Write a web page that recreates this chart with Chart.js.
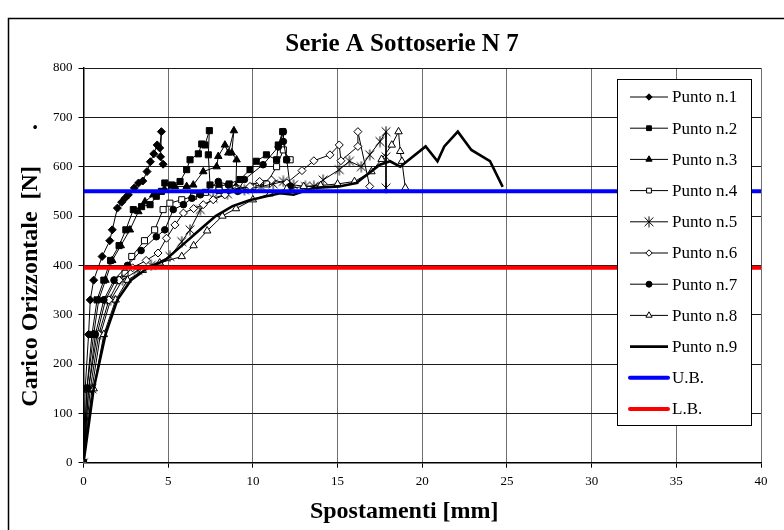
<!DOCTYPE html>
<html>
<head>
<meta charset="utf-8">
<title>Serie A Sottoserie N 7</title>
<script src="https://cdn.jsdelivr.net/npm/chart.js@4.4.1/dist/chart.umd.min.js"></script>
<style>
  html, body { margin: 0; padding: 0; background: #fff; }
  #wrap { width: 784px; height: 530px; }
</style>
</head>
<body>
<div id="wrap"><canvas id="chart" width="784" height="530"></canvas></div>
<script>
// ==============================================
// Data (x = spostamento mm, y = carico N)
// ==============================================
const p1X = [0, 0.1, 0.3, 0.4, 0.6, 1.1, 1.55, 1.7, 2.0, 2.25, 2.45, 2.65, 3.0, 3.25, 3.5, 3.75, 3.95, 4.15, 4.35, 4.5, 4.6, 4.55, 4.7];
const p1Y = [0, 150, 260, 330, 370, 418, 450, 472, 516, 528, 536, 543, 557, 567, 571, 590, 610, 626, 644, 638, 671, 620, 605];

const p2X = [0, 0.2, 0.5, 0.8, 1.2, 1.6, 2.1, 2.5, 2.94, 3.43, 3.93, 4.3, 4.6, 4.8, 5.2, 5.7, 6.09, 6.29, 6.78, 6.98, 7.17, 7.43, 7.37, 7.47, 8.0, 8.6, 9.24, 9.83, 10.2, 10.8, 11.4, 11.5, 11.76, 12.0];
const p2Y = [0, 150, 260, 330, 370, 410, 440, 472, 513, 519, 523, 540, 550, 567, 563, 570, 594, 614, 626, 646, 644, 673, 624, 563, 560, 565, 574, 594, 611, 624, 614, 644, 671, 614];

const p3X = [0, 0.2, 0.6, 0.9, 1.3, 1.7, 2.2, 2.74, 3.24, 3.63, 4.12, 4.8, 5.4, 6.09, 6.48, 7.07, 7.86, 7.96, 8.35, 8.55, 8.88, 8.75, 9.04, 9.0];
const p3Y = [0, 150, 260, 330, 370, 410, 440, 472, 509, 529, 543, 553, 560, 560, 563, 590, 600, 621, 644, 628, 673, 628, 614, 560];

const p4X = [0, 0.3, 0.8, 1.3, 1.9, 2.45, 2.85, 3.6, 4.2, 4.7, 5.1, 5.8, 6.5, 7.2, 8.0, 9.0, 10.0, 10.8, 11.4, 11.8, 12.2];
const p4Y = [0, 150, 260, 330, 370, 384, 418, 450, 472, 513, 526, 533, 540, 548, 552, 556, 560, 565, 600, 634, 614];

const p5X = [0, 0.5, 1.0, 1.6, 2.3, 3.2, 4.0, 5.1, 5.8, 6.29, 6.9, 7.66, 8.5, 9.5, 10.5, 11.2, 11.8, 12.4, 13.1, 13.6, 14.15, 15.1, 15.7, 16.4, 16.9, 17.5, 17.86, 17.86, 17.86];
const p5Y = [0, 150, 260, 330, 370, 390, 400, 418, 448, 472, 513, 536, 545, 553, 560, 565, 570, 563, 560, 560, 573, 594, 611, 600, 624, 651, 671, 620, 557];

const p6X = [0, 0.4, 0.9, 1.5, 2.1, 2.9, 3.7, 4.4, 4.9, 5.4, 5.9, 6.5, 7.07, 7.66, 8.35, 9.04, 9.83, 10.4, 11.1, 12.0, 12.9, 13.6, 14.55, 15.1, 15.2, 16.2, 16.2, 16.9];
const p6Y = [0, 150, 260, 330, 370, 395, 410, 425, 455, 482, 506, 515, 523, 533, 543, 553, 560, 570, 573, 567, 592, 612, 624, 644, 612, 641, 671, 560];

const p7X = [0, 0.3, 0.7, 1.2, 1.8, 2.6, 3.4, 4.3, 4.8, 5.3, 5.9, 6.4, 6.9, 7.96, 8.55, 9.1, 9.5, 10.6, 11.5, 11.8, 11.8, 12.0, 12.2];
const p7Y = [0, 150, 260, 330, 370, 400, 430, 458, 472, 513, 523, 536, 543, 570, 563, 550, 574, 604, 640, 671, 651, 614, 560];

const p8X = [0, 0.6, 1.2, 1.9, 2.6, 3.5, 4.5, 5.8, 6.5, 7.3, 8.2, 9.0, 10.0, 11.0, 12.0, 13.0, 14.0, 15.0, 16.0, 17.0, 17.6, 18.2, 18.6, 18.7, 18.8, 19.0];
const p8Y = [0, 150, 260, 330, 370, 390, 405, 418, 440, 470, 500, 515, 533, 545, 555, 560, 562, 565, 570, 590, 615, 644, 671, 631, 611, 557];

const p9X = [0, 0.6, 1.3, 2.0, 2.8, 3.8, 4.8, 5.8, 6.8, 7.8, 8.8, 9.8, 10.8, 11.6, 12.4, 13.6, 15.1, 16.1, 17.5, 18.1, 18.7, 20.2, 20.9, 21.3, 22.1, 22.9, 24.0, 24.75];
const p9Y = [0, 150, 260, 330, 370, 395, 410, 440, 470, 500, 520, 532, 540, 546, 543, 557, 560, 567, 604, 611, 600, 641, 611, 641, 671, 634, 611, 559];

// upper / lower bound lines
const boundX = [0, 40];
const ubY = [550, 550];
const lbY = [395, 395];

const xTicks = { min: 0, max: 40, step: 5 };
const yTicks = { min: 0, max: 800, step: 100 };

const FONT = "'Liberation Serif', 'Times New Roman', serif";

// ==============================================
// helpers
// ==============================================
function pts(xs, ys) {
    const out = [];
    for (let i = 0; i < xs.length; i++) out.push({ x: xs[i], y: ys[i] });
    return out;
}

// Excel style "*" marker: vertical bar + X
function makeAsterisk(size) {
    const c = document.createElement("canvas");
    c.width = size; c.height = size;
    const g = c.getContext("2d");
    const m = size / 2, r = size / 2 - 0.5, d = r * 0.8;
    g.strokeStyle = "#000";
    g.lineWidth = 1;
    g.beginPath();
    g.moveTo(m, m - r); g.lineTo(m, m + r);
    g.moveTo(m - d, m - d); g.lineTo(m + d, m + d);
    g.moveTo(m + d, m - d); g.lineTo(m - d, m + d);
    g.stroke();
    return c;
}
const starMark = makeAsterisk(12);

function series(label, xs, ys, style, radius, filled, order) {
    return {
        label: label,
        data: pts(xs, ys),
        showLine: true,
        borderColor: "#000",
        backgroundColor: filled ? "#000" : "#fff",
        borderWidth: 1,
        pointStyle: style,
        pointRadius: radius,
        pointBorderWidth: 1,
        pointBorderColor: "#000",
        pointBackgroundColor: filled ? "#000" : "#fff",
        order: order
    };
}

const datasets = [
    series("Punto n.1", p1X, p1Y, "rectRot", 4, true, 10),
    series("Punto n.2", p2X, p2Y, "rect", 4.3, true, 9),
    series("Punto n.3", p3X, p3Y, "triangle", 4.3, true, 8),
    series("Punto n.4", p4X, p4Y, "rect", 4.3, false, 7),
    series("Punto n.5", p5X, p5Y, starMark, 6, false, 6),
    series("Punto n.6", p6X, p6Y, "rectRot", 4, false, 5),
    series("Punto n.7", p7X, p7Y, "circle", 3.3, true, 4),
    series("Punto n.8", p8X, p8Y, "triangle", 4.3, false, 3),
    {
        label: "Punto n.9", data: pts(p9X, p9Y), showLine: true,
        borderColor: "#000", borderWidth: 2.6, pointRadius: 0, order: 2
    },
    {
        label: "U.B.", data: pts(boundX, ubY), showLine: true,
        borderColor: "#0000ff", borderWidth: 4, pointRadius: 0, order: 1
    },
    {
        label: "L.B.", data: pts(boundX, lbY), showLine: true,
        borderColor: "#ff0000", borderWidth: 4, pointRadius: 0, order: 0
    }
];

// ==============================================
// plugins: outer frame + boxed legend inside the plot
// ==============================================
const framePlugin = {
    id: "frame",
    beforeDraw(chart) {
        const ctx = chart.ctx;
        ctx.save();
        ctx.fillStyle = "#fff";
        ctx.fillRect(0, 0, chart.width, chart.height);
        ctx.strokeStyle = "#000";
        ctx.lineWidth = 1.5;
        ctx.strokeRect(8.5, 18.5, 900, 700);
        ctx.restore();
    }
};

const legendMarkers = [
    { style: "rectRot", r: 3.2 }, { style: "rect", r: 3.4 }, { style: "triangle", r: 3.6 },
    { style: "rect", r: 3.4 }, { style: starMark, r: 6 }, { style: "rectRot", r: 3.2 },
    { style: "circle", r: 3 }, { style: "triangle", r: 3.6 }, null, null, null
];

const boxLegend = {
    id: "boxLegend",
    afterDatasetsDraw(chart) {
        const ctx = chart.ctx;
        const bx = 617.5, by = 79.5, bw = 134, bh = 346;
        ctx.save();
        ctx.fillStyle = "#fff";
        ctx.fillRect(bx, by, bw, bh);
        ctx.strokeStyle = "#000";
        ctx.lineWidth = 1;
        ctx.strokeRect(bx, by, bw, bh);
        ctx.font = "17px " + FONT;
        ctx.textBaseline = "middle";
        ctx.textAlign = "left";
        const ds = chart.data.datasets;
        for (let i = 0; i < ds.length; i++) {
            const y = 97 + i * 31.2;
            const lw = i < 8 ? 1 : (i === 8 ? 2.6 : 4);
            ctx.strokeStyle = ds[i].borderColor;
            ctx.lineWidth = lw;
            ctx.lineCap = i > 8 ? "round" : "butt";
            ctx.beginPath();
            ctx.moveTo(630, y);
            ctx.lineTo(668, y);
            ctx.stroke();
            const mk = legendMarkers[i];
            if (mk) {
                ctx.fillStyle = ds[i].pointBackgroundColor;
                ctx.strokeStyle = "#000";
                ctx.lineWidth = 1;
                Chart.helpers.drawPoint(ctx, { pointStyle: mk.style, radius: mk.r, borderWidth: 1, rotation: 0 }, 649, y);
            }
            ctx.fillStyle = "#000";
            ctx.fillText(ds[i].label, 672, y + 1);
        }
        ctx.restore();
    }
};

// ==============================================
// chart
// ==============================================
new Chart(document.getElementById("chart").getContext("2d"), {
    type: "scatter",
    data: { datasets: datasets },
    options: {
        responsive: false,
        animation: false,
        layout: { padding: { left: 20, right: 0, top: 0, bottom: 0 } },
        plugins: {
            legend: { display: false },
            tooltip: { enabled: false },
            title: {
                display: true,
                text: "Serie A Sottoserie N 7",
                color: "#000",
                font: { family: FONT, size: 25, weight: "bold" },
                padding: { top: 30, bottom: 8 }
            }
        },
        scales: {
            x: {
                type: "linear",
                min: xTicks.min, max: xTicks.max,
                ticks: { stepSize: xTicks.step, color: "#000", padding: 6, font: { family: FONT, size: 13 } },
                grid: { color: "#6e6e6e", lineWidth: 1, tickLength: 5, tickColor: "#000" },
                border: { color: "#000", width: 1.5 },
                title: {
                    display: true, text: "Spostamenti [mm]      ", color: "#000",
                    font: { family: FONT, size: 24, weight: "bold" }, padding: { top: 2, bottom: 4 }
                },
                afterFit(s) { s.height = 67.3; }
            },
            y: {
                type: "linear",
                min: yTicks.min, max: yTicks.max,
                ticks: { stepSize: yTicks.step, color: "#000", padding: 6, font: { family: FONT, size: 13 } },
                grid: { color: "#1a1a1a", lineWidth: 1, tickLength: 5, tickColor: "#000" },
                border: { color: "#000", width: 1.5 },
                title: {
                    display: true, text: "Carico Orizzontale  [N]      .", color: "#000",
                    font: { family: FONT, size: 24, weight: "bold" }, padding: { top: -4, bottom: 4 }
                },
                afterFit(s) { s.width = 63.5; }
            },
            // empty right strip so the plot ends at x = 40 where the picture does
            yRight: {
                type: "linear",
                position: "right",
                min: 0, max: 1,
                ticks: { display: false },
                grid: { display: false, drawTicks: false },
                border: { display: false },
                afterFit(s) { s.width = 23; }
            }
        }
    },
    plugins: [framePlugin, boxLegend]
});
</script>
</body>
</html>
